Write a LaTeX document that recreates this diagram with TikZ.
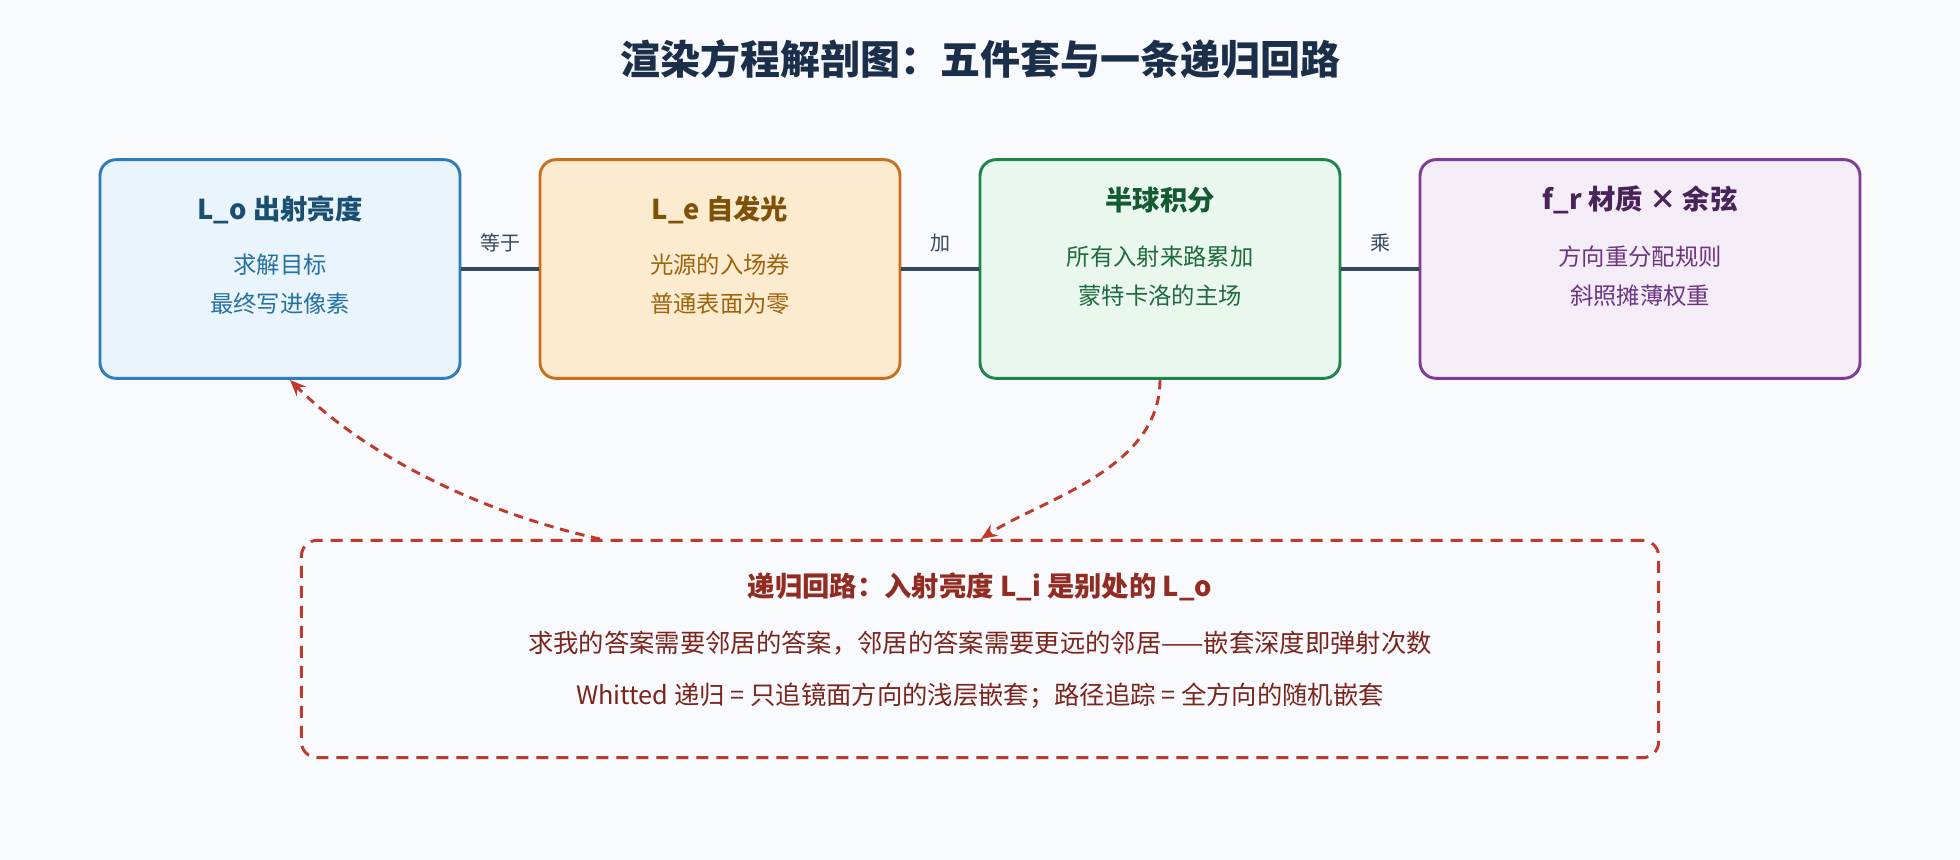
\documentclass[tikz,border=0pt]{standalone}
\usepackage{fontspec}
\setmainfont{Noto Sans CJK SC}
\usetikzlibrary{arrows.meta}
\definecolor{bg}{HTML}{F8FAFD}
\definecolor{conn}{HTML}{34495E}
\definecolor{red}{HTML}{C0392B}
\definecolor{tt}{HTML}{1B2F4A}
\definecolor{e1}{HTML}{2E7DBA}\definecolor{f1}{HTML}{EAF4FC}
\definecolor{e2}{HTML}{CA6F1E}\definecolor{f2}{HTML}{FDEBD0}
\definecolor{e3}{HTML}{1E8449}\definecolor{f3}{HTML}{E9F7EF}
\definecolor{e4}{HTML}{7D3C98}\definecolor{f4}{HTML}{F4ECF7}
\definecolor{c1}{HTML}{1B4F72}\definecolor{d1}{HTML}{2471A3}
\definecolor{c2}{HTML}{7E5109}\definecolor{d2}{HTML}{9C640C}
\definecolor{c3}{HTML}{145A32}\definecolor{d3}{HTML}{1E6B3D}
\definecolor{c4}{HTML}{4A235A}\definecolor{d4}{HTML}{6C3483}
\definecolor{rt}{HTML}{922B21}\definecolor{rb}{HTML}{7B241C}
\tikzset{x=0.75pt,y=-0.75pt,
 box/.style={draw=#1,line width=2.2pt,rounded corners=12pt,minimum width=270pt,minimum height=164pt},
 hd/.style={font=\fontsize{20.5}{24}\selectfont\bfseries},
 bd/.style={font=\fontsize{17.5}{29}\selectfont,align=center},
 lab/.style={font=\fontsize{15}{17}\selectfont,text=conn},
 ln/.style={draw=conn,line width=3pt},
 bl/.style={font=\fontsize{19}{21}\selectfont,text=rb},
 loop/.style={draw=red,line width=2.2pt,dash pattern=on 7pt off 5pt,-{Stealth[length=12pt,width=10pt]}}}
\begin{document}
\begin{tikzpicture}
\useasboundingbox[fill=bg] (0,0) rectangle (1960,860);
\node[font=\fontsize{30}{33}\selectfont\bfseries,text=tt] (t) at (980,59) {渲染方程解剖图：五件套与一条递归回路};
\node[box=e1,fill=f1,minimum width=270pt] (b1) at (280,269) {};
\node[box=e2,fill=f2,minimum width=270pt] (b2) at (720,269) {};
\node[box=e3,fill=f3,minimum width=270pt] (b3) at (1160,269) {};
\node[box=e4,fill=f4,minimum width=330pt] (b4) at (1640,269) {};
\node[hd,text=c1] (h1) at (280,210) {L\_o 出射亮度};
\node[bd,text=d1] (s1) at (280,284) {求解目标\\最终写进像素};
\node[hd,text=c2] (h2) at (720,210) {L\_e 自发光};
\node[bd,text=d2] (s2) at (720,284) {光源的入场券\\普通表面为零};
\node[hd,text=c3] (h3) at (1160,200) {半球积分};
\node[bd,text=d3] (s3) at (1160,276) {所有入射来路累加\\蒙特卡洛的主场};
\node[hd,text=c4] (h4) at (1640,200) {f\_r 材质 × 余弦};
\node[bd,text=d4] (s4) at (1640,276) {方向重分配规则\\斜照摊薄权重};
\draw[ln] (b1.east) -- (b2.west) node[midway,above=8pt,lab] {等于};
\draw[ln] (b2.east) -- (b3.west) node[midway,above=8pt,lab] {加};
\draw[ln] (b3.east) -- (b4.west) node[midway,above=8pt,lab] {乘};
\node[draw=red,line width=2.2pt,dash pattern=on 9pt off 6pt,rounded corners=12pt,minimum width=1018pt,minimum height=163pt] (bb) at (980,649) {};
\node[font=\fontsize{20.5}{24}\selectfont\bfseries,text=rt] (bt) at (980,587) {递归回路：入射亮度 L\_i 是别处的 L\_o};
\node[bl] (bl1) at (980,643) {求我的答案需要邻居的答案，邻居的答案需要更远的邻居——嵌套深度即弹射次数};
\node[bl] (bl2) at (980,696) {Whitted 递归 = 只追镜面方向的浅层嵌套；路径追踪 = 全方向的随机嵌套};
\coordinate (p1) at (1160,380);
\coordinate (q1) at (981,539);
\coordinate (p2) at (600,539);
\coordinate (q2) at (290,380);
\draw[loop] (p1) .. controls (1160,470) and (1040,500) .. (q1);
\draw[loop] (p2) .. controls (470,510) and (360,450) .. (q2);
\end{tikzpicture}
\end{document}
